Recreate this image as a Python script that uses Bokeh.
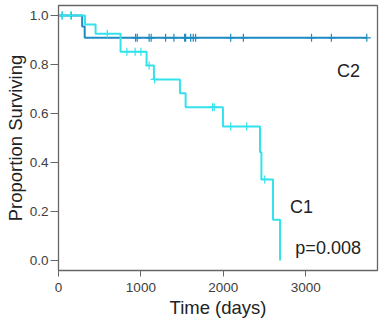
from bokeh.plotting import figure
from bokeh.models import Range1d, FixedTicker, NumeralTickFormatter
from bokeh.core.properties import value
from bokeh.embed import file_html
from bokeh.resources import INLINE

# Kaplan-Meier step curves (time in days, survival proportion)
c1_time = [0, 322, 450, 753, 1069, 1158, 1474, 1543, 1996, 2446, 2463, 2604, 2689]
c1_surv = [1.0, 0.963, 0.926, 0.852, 0.796, 0.739, 0.683, 0.626, 0.547, 0.442, 0.331, 0.166, 0.0]
c1_cens_time = [45, 150, 592, 830, 930, 1000, 1100, 1166, 1870, 1890, 2090, 2284, 2503]
c1_cens_surv = [1.0, 1.0, 0.926, 0.852, 0.852, 0.852, 0.796, 0.739, 0.626, 0.626, 0.547, 0.547, 0.331]

c2_time = [0, 287, 318, 3742]
c2_surv = [1.0, 0.955, 0.909, 0.909]
c2_cens_time = [45, 154, 936, 956, 1100, 1125, 1300, 1401, 1531, 1543, 1604, 1636,
                1664, 2090, 2244, 3071, 3312, 3742]
c2_cens_surv = [1.0, 1.0] + [0.909] * 16

x_ticks = [0, 1000, 2000, 3000]
y_ticks = [0.0, 0.2, 0.4, 0.6, 0.8, 1.0]

labels_text = ["C2", "C1", "p=0.008"]
labels_x = [3380, 2810, 2875]
labels_y = [0.772, 0.22, 0.05]

C1_COLOR = "#33e2ea"
C2_COLOR = "#1f8bc2"
FONT = "Liberation Sans"

p = figure(width=383, height=321, output_backend="svg", toolbar_location=None,
           x_range=Range1d(0, 3872), y_range=Range1d(-0.0408, 1.0408),
           min_border_left=58, min_border_right=6, min_border_top=5, min_border_bottom=51)
p.background_fill_color = "white"
p.border_fill_color = "white"
p.outline_line_color = "#666666"
p.outline_line_width = 1.3
p.xgrid.visible = False
p.ygrid.visible = False

p.step(c2_time, c2_surv, mode="after", line_color=C2_COLOR, line_width=2)
p.step(c1_time, c1_surv, mode="after", line_color=C1_COLOR, line_width=2)
p.scatter(c2_cens_time, c2_cens_surv, marker="cross", size=8, line_color=C2_COLOR, line_width=1.2)
p.scatter(c1_cens_time, c1_cens_surv, marker="cross", size=8, line_color=C1_COLOR, line_width=1.2)

p.text(labels_x, labels_y, text=labels_text, text_font=value(FONT), text_font_size="18px",
       text_color="#222222", text_align="left", text_baseline="middle")

for ax in (p.xaxis[0], p.yaxis[0]):
    ax.axis_line_color = "#666666"
    ax.major_tick_line_color = "#666666"
    ax.minor_tick_line_color = None
    ax.major_tick_in = 0
    ax.major_label_text_font = FONT
    ax.major_label_text_font_size = "13.5px"
    ax.major_label_text_color = "#404040"
    ax.axis_label_text_font = FONT
    ax.axis_label_text_font_size = "18.5px"
    ax.axis_label_text_font_style = "normal"
    ax.axis_label_text_color = "#222222"

p.xaxis.ticker = FixedTicker(ticks=x_ticks)
p.yaxis.ticker = FixedTicker(ticks=y_ticks)
p.yaxis.formatter = NumeralTickFormatter(format="0.0")
p.xaxis.axis_label = "Time (days)"
p.yaxis.axis_label = "Proportion Surviving"
p.xaxis.major_tick_out = 6
p.xaxis.major_label_standoff = 6
p.xaxis.axis_label_standoff = 2
p.yaxis.major_tick_out = 8
p.yaxis.major_label_standoff = 2
p.yaxis.axis_label_standoff = 1
p.yaxis.major_label_orientation = "horizontal"

open("out.html", "w").write(file_html(p, INLINE))
